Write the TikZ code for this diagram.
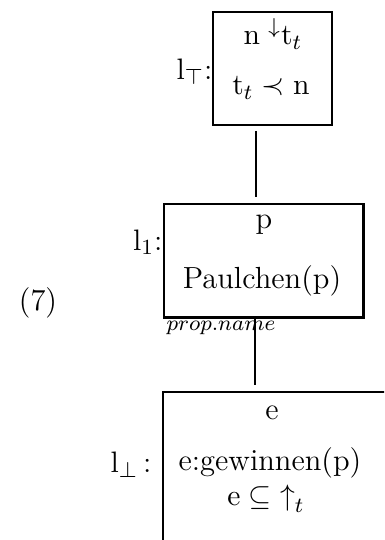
\documentclass[tikz,border=0pt]{standalone}
\usepackage{amsmath,amssymb}
\usepackage{tikz}

\tikzset{
    drsbox/.style={draw, line width=0.55pt, inner sep=0pt},
    lab/.style={inner sep=0pt, font=\fontsize{11.3}{13}\selectfont},
}

\begin{document}
\begin{tikzpicture}[x=0.37pt, y=-0.37pt]
    % Bildrand
    \clip (0,0) rectangle (384,540);

    % Nummer
    \node[lab] (num) at (38,303) {(7)};

    % oberer Kasten l_top
    \node[drsbox, minimum width=44pt, minimum height=41.8pt] (top) at (272.5,68.5) {};
    \node[lab] (topa) at (273,34) {$\mathrm{n}\;{}^{\downarrow}\mathrm{t}_t$};
    \node[lab] (topb) at (271,88) {$\mathrm{t}_t \prec \mathrm{n}$};
    \node[lab, anchor=east] (ltop) at (213,72) {$\mathrm{l}_{\top}$:};

    % mittlerer Kasten l_1
    \node[drsbox, minimum width=73.6pt, minimum height=41.8pt] (mid) at (263.5,260.5) {};
    \draw[line width=1pt] (mid.south west) -- (mid.south east) -- (mid.north east);
    \node[lab] (mida) at (264,225) {p};
    \node[lab] (midb) at (262,281) {Paulchen(p)};
    \node[lab, anchor=east] (lone) at (163,242) {$\mathrm{l}_1$:};
    \node[inner sep=0pt] (prop) at (221,328) {\footnotesize $prop.name$};

    % unterer Kasten l_bot
    \node[drsbox, line width=0.8pt, minimum width=85.8pt, minimum height=77pt] (bot) at (279,496) {};
    \node[lab] (bota) at (272,413) {e};
    \node[lab] (botb) at (270,463) {e:gewinnen(p)};
    \node[lab] (botc) at (266,499) {$\mathrm{e} \subseteq {\uparrow}_t$};
    \node[lab, anchor=east] (lbot) at (152,465) {$\mathrm{l}_{\perp}$\,:};

    % Verbindungen
    \coordinate (c1) at (256,131);
    \coordinate (c2) at (256,197);
    \coordinate (c3) at (255,319);
    \coordinate (c4) at (255,385);
    \draw[line width=0.5pt] (c1) -- (c2);
    \draw[line width=0.5pt] (c3) -- (c4);
\end{tikzpicture}
\end{document}
